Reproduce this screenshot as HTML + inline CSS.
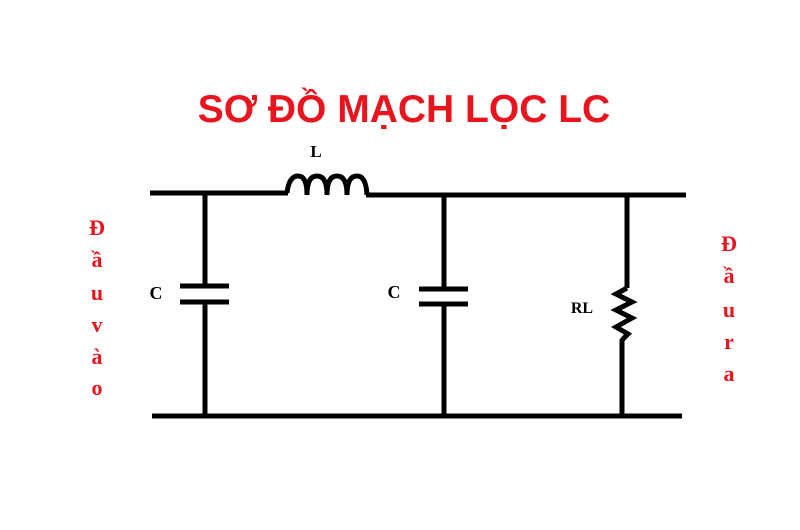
<!DOCTYPE html>
<html><head><meta charset="utf-8"><style>
html,body{margin:0;padding:0;background:#fff;width:800px;height:530px;overflow:hidden}
</style></head><body>
<svg width="800" height="530" viewBox="0 0 800 530" xmlns="http://www.w3.org/2000/svg">
<text x="404" y="122" text-anchor="middle" font-family="Liberation Sans, sans-serif" font-weight="bold" font-size="39" fill="#e8141e">SƠ ĐỒ MẠCH LỌC LC</text>
<g stroke="#000" stroke-width="5" fill="none" stroke-linecap="butt">
<line x1="150" y1="193" x2="288" y2="193"/>
<path d="M287 193 Q289 176 298 176 Q307 176 307 195 Q307 176 317 176 Q327 176 327 195 Q327 176 337 176 Q347 176 347 195 Q347 176 357 176 Q366 176 367 195"/>
<line x1="366" y1="195" x2="686" y2="195"/>
<line x1="205" y1="193" x2="205" y2="286"/>
<line x1="180" y1="286" x2="229" y2="286"/>
<line x1="180" y1="302" x2="229" y2="302"/>
<line x1="205" y1="302" x2="205" y2="417"/>
<line x1="444" y1="195" x2="444" y2="289"/>
<line x1="419" y1="289" x2="468" y2="289"/>
<line x1="419" y1="304" x2="468" y2="304"/>
<line x1="444" y1="304" x2="444" y2="418"/>
<line x1="627" y1="195" x2="627" y2="288"/>
<path d="M627 288 L616 294 L632 302 L616 310 L632 318 L616 327 L628 334 L622 340"/>
<line x1="622" y1="339" x2="622" y2="417"/>
<line x1="152" y1="416" x2="682" y2="416"/>
</g>
<g font-family="Liberation Serif, serif" font-weight="bold" fill="#000">
<text x="316" y="157" font-size="17" text-anchor="middle">L</text>
<text x="156" y="299" font-size="18" text-anchor="middle">C</text>
<text x="394" y="298" font-size="18" text-anchor="middle">C</text>
<text x="582" y="313" font-size="16" text-anchor="middle">RL</text>
</g>
<g font-family="Liberation Serif, serif" font-weight="bold" font-size="22" fill="#e8141e" text-anchor="middle">
<text x="97" y="235">Đ</text>
<text x="97" y="267">ầ</text>
<text x="97" y="300">u</text>
<text x="97" y="332">v</text>
<text x="97" y="364">à</text>
<text x="97" y="395">o</text>
<text x="729" y="251">Đ</text>
<text x="729" y="283">ầ</text>
<text x="729" y="317">u</text>
<text x="729" y="349">r</text>
<text x="729" y="381">a</text>
</g>
</svg>
</body></html>
